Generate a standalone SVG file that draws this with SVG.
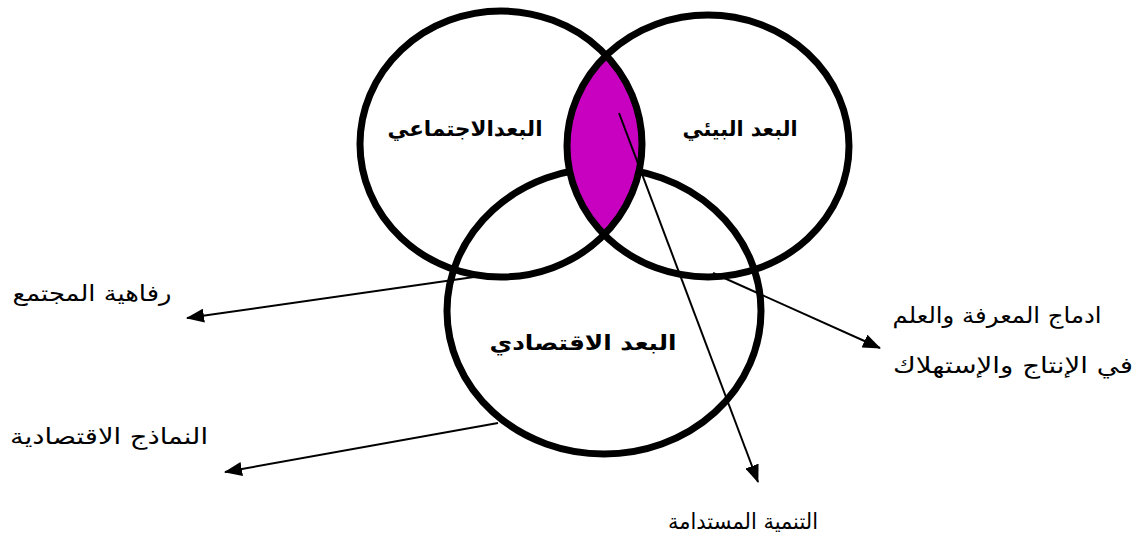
<svg xmlns="http://www.w3.org/2000/svg" width="1138" height="542" viewBox="0 0 1138 542">
<style>
.ring{fill:none;stroke:#000;stroke-width:7}
.lbl{font-family:"DejaVu Sans","Noto Sans",sans-serif;font-size:22px;fill:#000;text-anchor:middle}
.dim{font-weight:bold;font-size:21px}
.con{stroke:#000;stroke-width:2;fill:none;marker-end:url(#ah)}
</style>
<defs>
<marker id="ah" viewBox="0 0 18 14" refX="17" refY="7" markerWidth="18" markerHeight="14" markerUnits="userSpaceOnUse" orient="auto">
<path d="M0,0 L18,7 L0,14 Z" fill="#000"/>
</marker>
<clipPath id="rightClip"><ellipse cx="708" cy="146" rx="141" ry="131"/></clipPath>
</defs>
<rect width="1138" height="542" fill="#fff"/>
<g id="economic">
<ellipse class="ring" cx="604" cy="311" rx="157" ry="143"/>
<text class="lbl dim" x="583" y="350" textLength="187" lengthAdjust="spacingAndGlyphs">البعد الاقتصادي</text>
</g>
<g id="overlap">
<ellipse cx="501" cy="144" rx="141" ry="133" fill="#C800C0" clip-path="url(#rightClip)"/>
</g>
<g id="social">
<ellipse class="ring" cx="501" cy="144" rx="141" ry="133"/>
<text class="lbl dim" x="465" y="136" textLength="155" lengthAdjust="spacingAndGlyphs">البعدالاجتماعي</text>
</g>
<g id="environmental">
<ellipse class="ring" cx="708" cy="146" rx="141" ry="131"/>
<text class="lbl dim" x="740" y="136" textLength="115" lengthAdjust="spacingAndGlyphs">البعد البيئي</text>
</g>
<g id="connectors">
<line class="con" x1="619" y1="113" x2="758" y2="482"/>
<line class="con" x1="474" y1="277" x2="187" y2="318"/>
<line class="con" x1="498" y1="423" x2="225" y2="472"/>
<line class="con" x1="713" y1="273" x2="880" y2="348"/>
</g>
<g id="label-welfare"><text class="lbl" x="92" y="301" textLength="159" lengthAdjust="spacingAndGlyphs">رفاهية المجتمع</text></g>
<g id="label-models"><text class="lbl" x="109" y="444" textLength="198" lengthAdjust="spacingAndGlyphs">النماذج الاقتصادية</text></g>
<g id="label-knowledge">
<text class="lbl" x="997" y="323" textLength="209" lengthAdjust="spacingAndGlyphs">ادماج المعرفة والعلم</text>
<text class="lbl" x="1013" y="373" textLength="240" lengthAdjust="spacingAndGlyphs">في الإنتاج والإستهلاك</text>
</g>
<g id="label-sustainable"><text class="lbl" x="743" y="529" textLength="150" lengthAdjust="spacingAndGlyphs">التنمية المستدامة</text></g>
</svg>
